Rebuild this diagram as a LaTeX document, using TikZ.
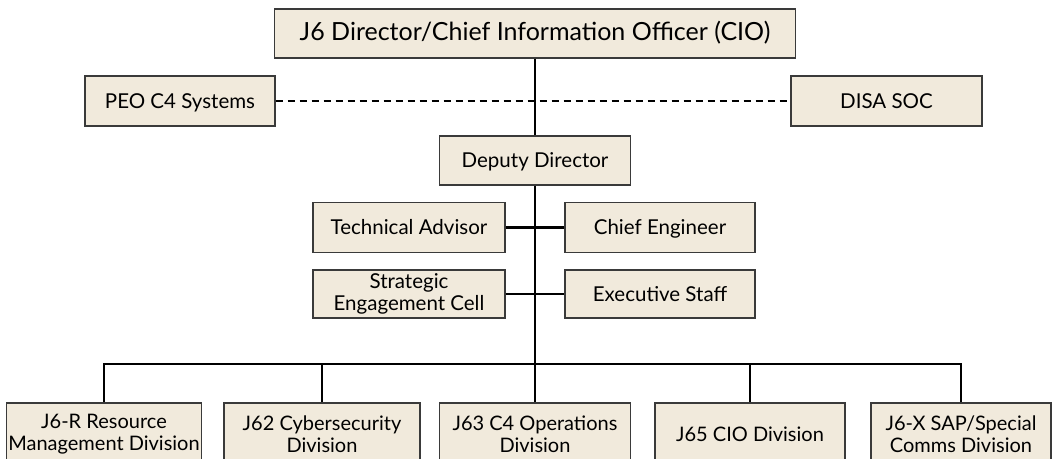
\documentclass[tikz,border=0pt]{standalone}
\usepackage{fontspec}
\setmainfont{Lato}
\usetikzlibrary{positioning}
\definecolor{boxfill}{HTML}{F1EADC}
\definecolor{boxline}{HTML}{3A3A3A}

\begin{document}
\begin{tikzpicture}[x=1pt,y=-1pt,
  unit/.style={draw=boxline,line width=1.2pt,fill=boxfill,align=center,inner sep=2pt,
    font=\fontsize{20.5}{22}\selectfont},
  oneline/.style={text height=14pt,text depth=0pt},
  conn/.style={line width=2.8pt},
  link/.style={line width=2.2pt,dash pattern=on 7pt off 5pt}]
\useasboundingbox (0,0) rectangle (1054,458);

% top of the chart
\node[unit,oneline,minimum width=521pt,minimum height=49pt,font=\fontsize{25}{27}\selectfont] (dir) at (535,33.5) {J6 Director/Chief Information Officer (CIO)};
\node[unit,oneline,minimum width=190pt,minimum height=50pt] (peo) at (180,101) {PEO C4 Systems};
\node[unit,oneline,minimum width=191pt,minimum height=50pt] (disa) at (886.5,101) {DISA SOC};
\node[unit,oneline,minimum width=191pt,minimum height=49pt] (dep) at (535,160.5) {Deputy Director};

% staff
\node[unit,oneline,minimum width=192pt,minimum height=50pt] (tech) at (409,227.5) {Technical Advisor};
\node[unit,oneline,minimum width=190pt,minimum height=50pt] (chief) at (660,227.5) {Chief Engineer};
\node[unit,minimum width=192pt,minimum height=48pt] (strat) at (409,294) {Strategic\\Engagement Cell};
\node[unit,oneline,minimum width=190pt,minimum height=48pt] (exec) at (660,294) {Executive Staff};

% divisions
\begin{scope}[every node/.append style={unit,minimum height=62pt,font=\fontsize{20}{22}\selectfont}]
\node[minimum width=190pt] (jr) at (104,434) {J6-R Resource\\Management Division};
\node[minimum width=196pt] (j62) at (322,434) {J62 Cybersecurity\\Division};
\node[minimum width=191pt] (j63) at (535,434) {J63 C4 Operations\\Division};
\node[oneline,minimum width=190pt] (j65) at (750,434) {J65 CIO Division};
\node[minimum width=180pt] (jx) at (961,434) {J6-X SAP/Special\\Comms Division};
\end{scope}

\coordinate (bus) at (535,364);
\draw[link] (peo) -- (disa);
\draw[conn] (dir) -- (dep);
\draw[conn] (dep) -- (bus);
\draw[conn] (tech) -- (chief);
\draw[conn] (strat) -- (exec);
\foreach \n in {jr,j62,j63,j65,jx}
  \draw[conn] (bus) -| (\n);
\end{tikzpicture}
\end{document}
